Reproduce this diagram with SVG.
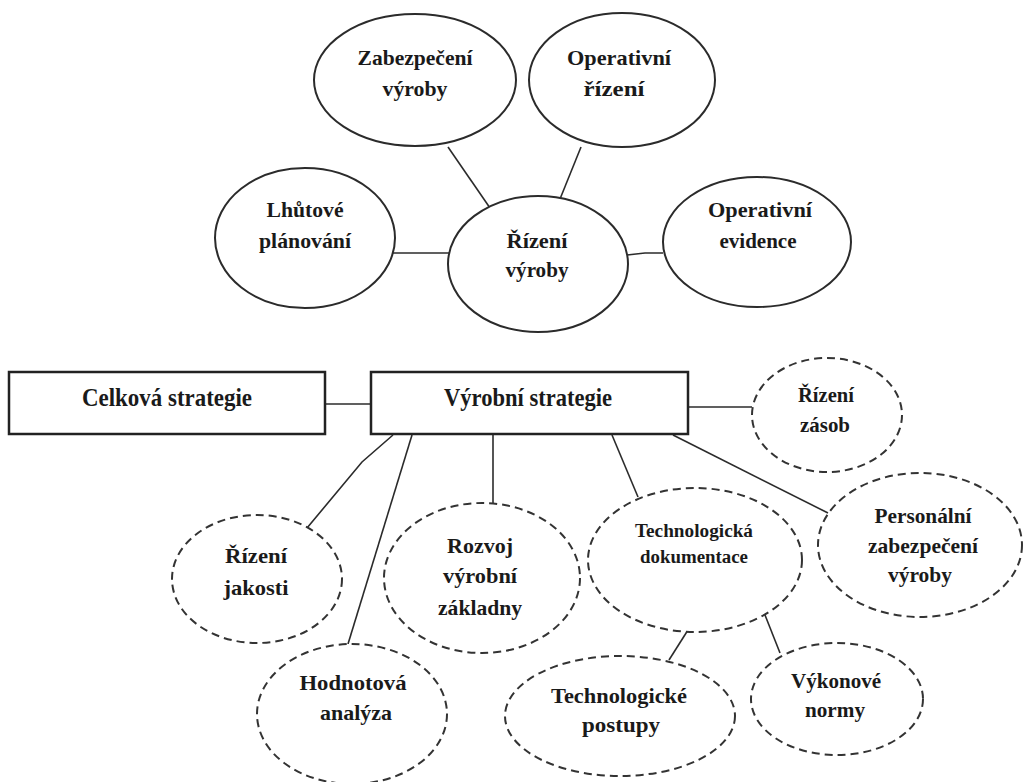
<svg xmlns="http://www.w3.org/2000/svg" width="1024" height="782" viewBox="0 0 1024 782">
  <style>
    .solid { fill: #ffffff; stroke: #2b2b2b; stroke-width: 2; }
    .dashed { fill: #ffffff; stroke: #333333; stroke-width: 2; stroke-dasharray: 8 5; }
    .box { fill: #ffffff; stroke: #222222; stroke-width: 2.5; }
    .link { stroke: #2b2b2b; stroke-width: 1.6; fill: none; }
    text { font-family: "Liberation Serif", "Times New Roman", serif; font-weight: bold; fill: #1a1a1a; text-anchor: middle; }
    .lbl { font-size: 22px; }
    .sm { font-size: 18px; }
    .big { font-size: 26px; }
  </style>
  <rect width="1024" height="782" fill="#ffffff"/>

  <!-- connectors -->
  <g id="connectors">
    <line class="link" x1="448" y1="147" x2="490" y2="208"/>
    <line class="link" x1="581" y1="147" x2="560" y2="199"/>
    <line class="link" x1="393" y1="253" x2="449" y2="253"/>
    <polyline class="link" points="627,255 645,253 663,253"/>
    <line class="link" x1="325" y1="404" x2="371" y2="404" stroke-width="2"/>
    <line class="link" x1="688" y1="407" x2="752" y2="407"/>
    <polyline class="link" points="393,435 362,462 307,528"/>
    <line class="link" x1="412" y1="435" x2="348" y2="644"/>
    <line class="link" x1="493" y1="435" x2="493" y2="503"/>
    <line class="link" x1="612" y1="435" x2="638" y2="497"/>
    <line class="link" x1="673" y1="435" x2="828" y2="513"/>
    <line class="link" x1="688" y1="630" x2="669" y2="660"/>
    <line class="link" x1="765" y1="615" x2="780" y2="653"/>
  </g>

  <!-- production management cluster -->
  <g id="zabezpeceni-vyroby">
    <ellipse class="solid" cx="415" cy="80" rx="101" ry="66"/>
    <text class="lbl" x="415" y="65" textLength="115" lengthAdjust="spacingAndGlyphs">Zabezpečení</text>
    <text class="lbl" x="415" y="96" textLength="65" lengthAdjust="spacingAndGlyphs">výroby</text>
  </g>
  <g id="operativni-rizeni">
    <ellipse class="solid" cx="622" cy="80" rx="93" ry="67"/>
    <text class="lbl" x="619" y="65" textLength="104" lengthAdjust="spacingAndGlyphs">Operativní</text>
    <text class="lbl" x="614" y="96" textLength="61" lengthAdjust="spacingAndGlyphs">řízení</text>
  </g>
  <g id="lhutove-planovani">
    <ellipse class="solid" cx="305" cy="238" rx="90" ry="70"/>
    <text class="lbl" x="305" y="217" textLength="77" lengthAdjust="spacingAndGlyphs">Lhůtové</text>
    <text class="lbl" x="305" y="248" textLength="92" lengthAdjust="spacingAndGlyphs">plánování</text>
  </g>
  <g id="rizeni-vyroby">
    <ellipse class="solid" cx="538" cy="264" rx="90" ry="68"/>
    <text class="lbl" x="537" y="248" textLength="61" lengthAdjust="spacingAndGlyphs">Řízení</text>
    <text class="lbl" x="537" y="277" textLength="63" lengthAdjust="spacingAndGlyphs">výroby</text>
  </g>
  <g id="operativni-evidence">
    <ellipse class="solid" cx="757" cy="242" rx="94" ry="65"/>
    <text class="lbl" x="760" y="217" textLength="104" lengthAdjust="spacingAndGlyphs">Operativní</text>
    <text class="lbl" x="758" y="248" textLength="77" lengthAdjust="spacingAndGlyphs">evidence</text>
  </g>

  <!-- strategy boxes -->
  <g id="celkova-strategie">
    <rect class="box" x="9" y="372" width="316" height="62"/>
    <text class="big" x="167" y="406" textLength="170" lengthAdjust="spacingAndGlyphs">Celková strategie</text>
  </g>
  <g id="vyrobni-strategie">
    <rect class="box" x="371" y="372" width="317" height="62"/>
    <text class="big" x="528" y="406" textLength="168" lengthAdjust="spacingAndGlyphs">Výrobní strategie</text>
  </g>

  <!-- dashed sub-areas -->
  <g id="rizeni-zasob">
    <ellipse class="dashed" cx="827" cy="415" rx="75" ry="57"/>
    <text class="lbl" x="826" y="402" textLength="56" lengthAdjust="spacingAndGlyphs">Řízení</text>
    <text class="lbl" x="825" y="432" textLength="50" lengthAdjust="spacingAndGlyphs">zásob</text>
  </g>
  <g id="personalni-zabezpeceni">
    <ellipse class="dashed" cx="920" cy="545" rx="102" ry="72"/>
    <text class="lbl" x="923" y="523" textLength="97" lengthAdjust="spacingAndGlyphs">Personální</text>
    <text class="lbl" x="923" y="553" textLength="110" lengthAdjust="spacingAndGlyphs">zabezpečení</text>
    <text class="lbl" x="920" y="582" textLength="64" lengthAdjust="spacingAndGlyphs">výroby</text>
  </g>
  <g id="technologicka-dokumentace">
    <ellipse class="dashed" cx="695" cy="560" rx="107" ry="72"/>
    <text class="sm" x="694" y="537" textLength="118" lengthAdjust="spacingAndGlyphs">Technologická</text>
    <text class="sm" x="694" y="563" textLength="108" lengthAdjust="spacingAndGlyphs">dokumentace</text>
  </g>
  <g id="rizeni-jakosti">
    <ellipse class="dashed" cx="257" cy="579" rx="85" ry="64"/>
    <text class="lbl" x="256" y="563" textLength="62" lengthAdjust="spacingAndGlyphs">Řízení</text>
    <text class="lbl" x="256" y="595" textLength="65" lengthAdjust="spacingAndGlyphs">jakosti</text>
  </g>
  <g id="hodnotova-analyza">
    <ellipse class="dashed" cx="352" cy="714" rx="95" ry="70"/>
    <text class="lbl" x="353" y="690" textLength="107" lengthAdjust="spacingAndGlyphs">Hodnotová</text>
    <text class="lbl" x="356" y="720" textLength="72" lengthAdjust="spacingAndGlyphs">analýza</text>
  </g>
  <g id="rozvoj-vyrobni-zakladny">
    <ellipse class="dashed" cx="482" cy="578" rx="98" ry="75"/>
    <text class="lbl" x="480" y="553" textLength="66" lengthAdjust="spacingAndGlyphs">Rozvoj</text>
    <text class="lbl" x="480" y="583" textLength="74" lengthAdjust="spacingAndGlyphs">výrobní</text>
    <text class="lbl" x="480" y="615" textLength="84" lengthAdjust="spacingAndGlyphs">základny</text>
  </g>
  <g id="technologicke-postupy">
    <ellipse class="dashed" cx="620" cy="716" rx="115" ry="60"/>
    <text class="lbl" x="619" y="703" textLength="136" lengthAdjust="spacingAndGlyphs">Technologické</text>
    <text class="lbl" x="621" y="732" textLength="78" lengthAdjust="spacingAndGlyphs">postupy</text>
  </g>
  <g id="vykonove-normy">
    <ellipse class="dashed" cx="837" cy="699" rx="86" ry="56"/>
    <text class="lbl" x="836" y="688" textLength="90" lengthAdjust="spacingAndGlyphs">Výkonové</text>
    <text class="lbl" x="835" y="717" textLength="60" lengthAdjust="spacingAndGlyphs">normy</text>
  </g>
</svg>
